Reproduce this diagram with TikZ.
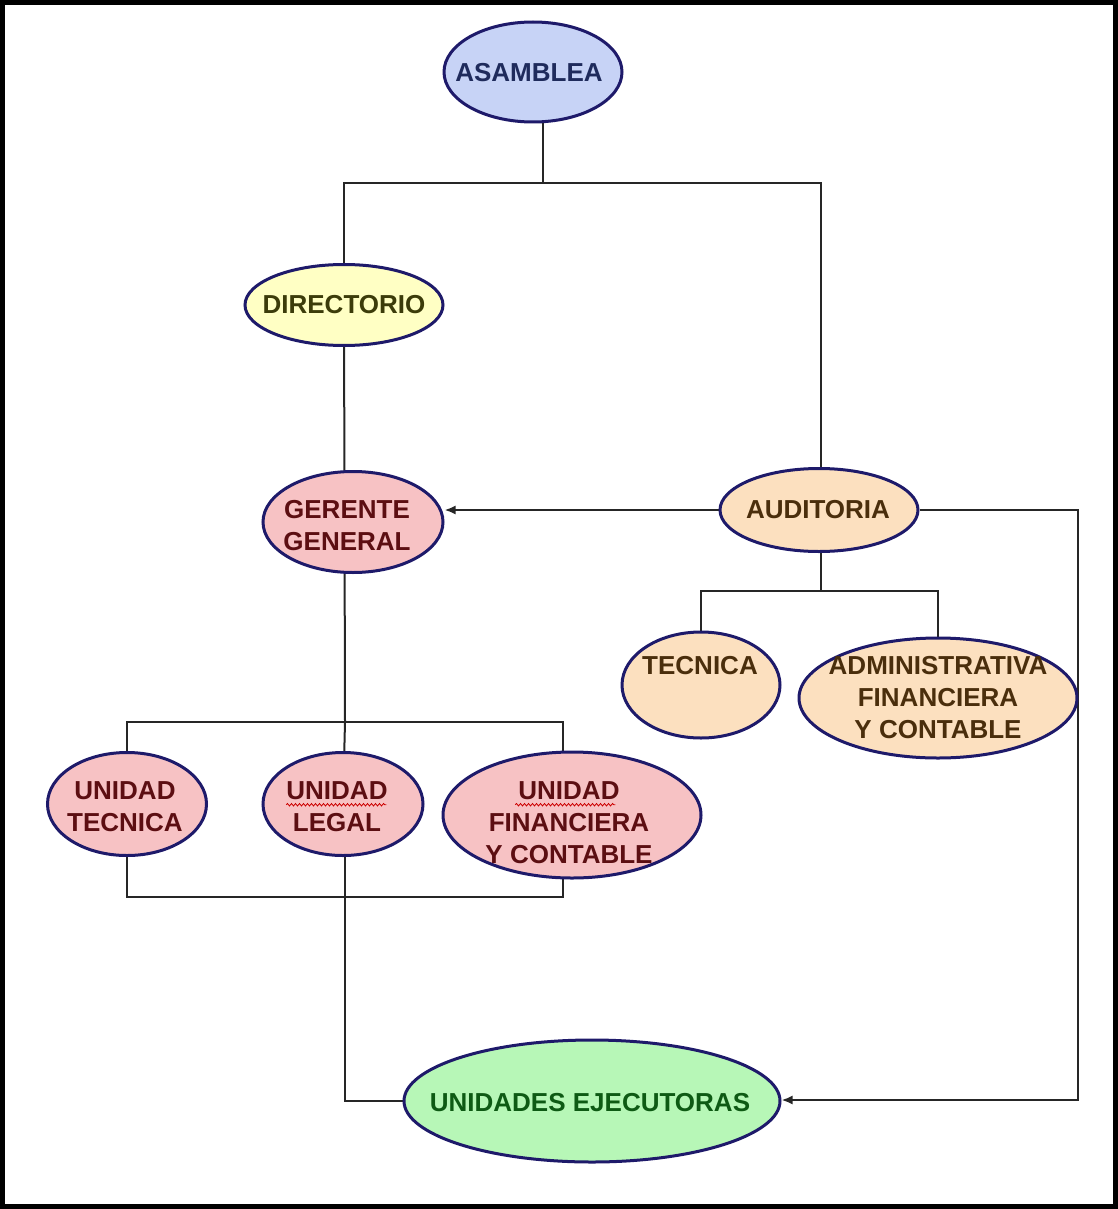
\documentclass[tikz,border=0pt]{standalone}
\usepackage{fontspec}
\setmainfont{Liberation Sans}
\usetikzlibrary{shapes.geometric,arrows.meta,backgrounds,decorations.pathmorphing}
\definecolor{bord}{HTML}{1E1A6A}
\definecolor{cAs}{HTML}{C7D3F6}
\definecolor{tAs}{HTML}{1F2B5C}
\definecolor{cDir}{HTML}{FFFFC4}
\definecolor{tDir}{HTML}{3C3C0A}
\definecolor{cPink}{HTML}{F7C2C4}
\definecolor{tPink}{HTML}{5C0E12}
\definecolor{cPeach}{HTML}{FCE0BF}
\definecolor{tPeach}{HTML}{4A2E0C}
\definecolor{cGreen}{HTML}{B7F7B7}
\definecolor{tGreen}{HTML}{0E5A14}
\begin{document}
\begin{tikzpicture}[x=1pt,y=-1pt,
  oval/.style={ellipse, draw=bord, line width=3pt, inner sep=0pt},
  lbl/.style={font=\bfseries\fontsize{26}{32}\selectfont, align=center, inner sep=0pt},
  conn/.style={line width=2pt, draw=black!85},
  arr/.style={conn, -{Latex[length=11pt,width=9pt]}},
  wavy/.style={draw=red!80!black, line width=0.8pt, decorate, decoration={snake, amplitude=1.2pt, segment length=4pt}}]
\useasboundingbox (0,0) rectangle (1118,1209);
\draw[line width=5pt] (2.5,2.5) rectangle (1115.5,1206.5);

% ellipses
\node[oval, fill=cAs, minimum width=178pt, minimum height=100pt] (asamblea) at (533,72) {};
\node[oval, fill=cDir, minimum width=198pt, minimum height=81pt] (directorio) at (344,305) {};
\node[oval, fill=cPink, minimum width=180pt, minimum height=101pt] (gerente) at (353,522) {};
\node[oval, fill=cPeach, minimum width=198pt, minimum height=83pt] (auditoria) at (819,510) {};
\node[oval, fill=cPeach, minimum width=158pt, minimum height=106pt] (tecnica) at (701,685) {};
\node[oval, fill=cPeach, minimum width=278pt, minimum height=120pt] (admin) at (938,698) {};
\node[oval, fill=cPink, minimum width=159pt, minimum height=103pt] (ut) at (127,804) {};
\node[oval, fill=cPink, minimum width=160pt, minimum height=103pt] (ul) at (343,804) {};
\node[oval, fill=cPink, minimum width=258pt, minimum height=126pt] (uf) at (572,815) {};
\node[oval, fill=cGreen, minimum width=376pt, minimum height=122pt] (ejec) at (592,1101) {};

% texts
\node[lbl, text=tAs] (t-asamblea) at (529,73) {ASAMBLEA};
\node[lbl, text=tDir] (t-directorio) at (344,305) {DIRECTORIO};
\node[lbl, text=tPink] (t-gerente) at (347,526) {GERENTE\\GENERAL};
\node[lbl, text=tPeach] (t-auditoria) at (818,510) {AUDITORIA};
\node[lbl, text=tPeach] (t-tecnica) at (700,666) {TECNICA};
\node[lbl, text=tPeach] (t-admin) at (938,698) {ADMINISTRATIVA\\FINANCIERA\\Y CONTABLE};
\node[lbl, text=tPink] (t-ut) at (125,807) {UNIDAD\\TECNICA};
\node[lbl, text=tPink] (t-ul) at (337,807) {UNIDAD\\LEGAL};
\node[lbl, text=tPink] (t-uf) at (569,823) {UNIDAD\\FINANCIERA\\Y CONTABLE};
\node[lbl, text=tGreen] (t-ejec) at (590,1103) {UNIDADES EJECUTORAS};

% spell-check underlines
\draw[wavy] (t-ul.north west) ++(0,23) coordinate (w1) -- ++(100,0);
\draw[wavy] (t-uf.north west) ++(30,23) coordinate (w2) -- ++(100,0);

% connector junctions
\coordinate (a1) at (543,183);
\coordinate (sp) at (345,722);
\coordinate (sr) at (563,722);
\coordinate (sbr) at (563,897);
\coordinate (ab) at (821,591);
\coordinate (rr) at (1078,1100);

\begin{scope}[on background layer]
\draw[conn] (asamblea.center -| a1) -- (a1);
\draw[conn] (directorio.center) |- (a1) -| (auditoria.center -| ab);
\draw[conn] (directorio.center) -- (sp);
\draw[conn] (ut.center) |- (sr) -- (sr |- uf.center);
\draw[conn] (sp) -- (ul.center);
\draw[conn] (ut.center) |- (sbr) -- (sbr |- uf.center);
\draw[conn] (ul.center) -- (ul.center -| sp) -- (sp |- ejec.center) -- (ejec.center);
\draw[conn] (auditoria.center -| ab) -- (ab);
\draw[conn] (tecnica.center) |- (ab) -| (admin.center);
\draw[arr] (auditoria.west) -- (gerente.east |- auditoria.west);
\draw[arr] (auditoria.east) -| (rr) -- (ejec.east |- rr);
\end{scope}
\end{tikzpicture}
\end{document}
